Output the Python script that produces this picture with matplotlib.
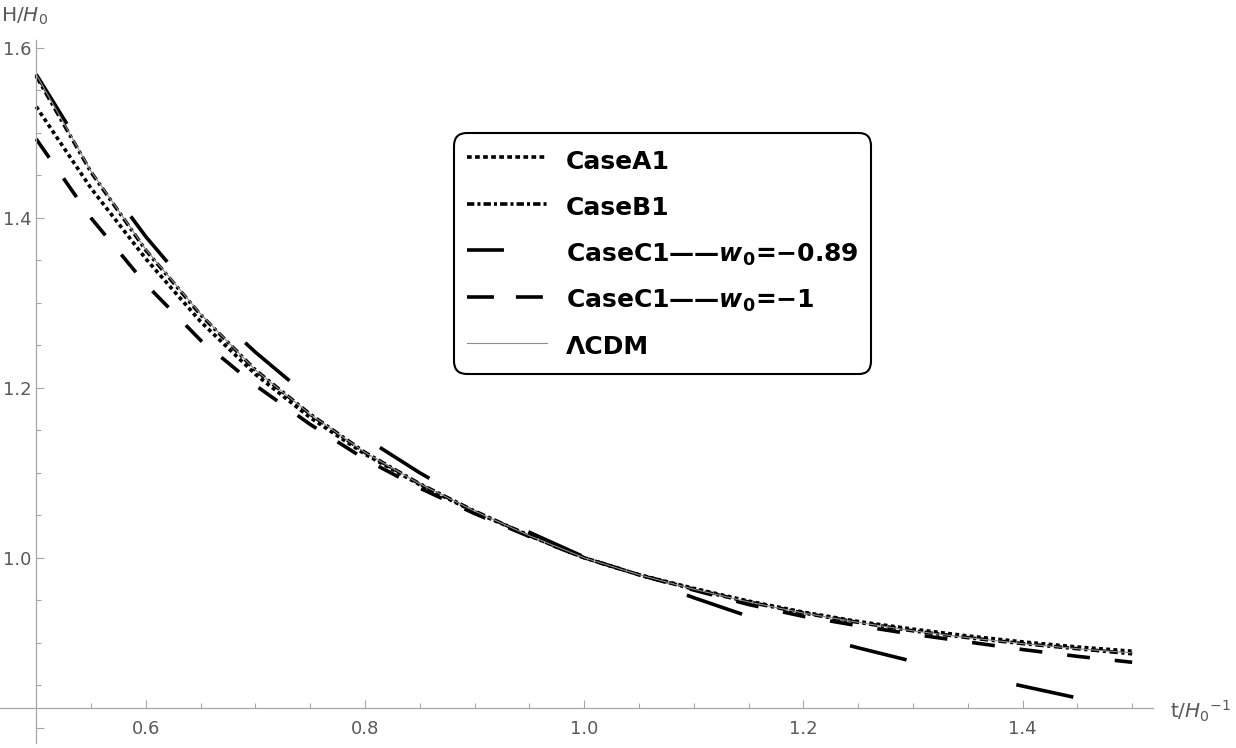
import numpy as np
import matplotlib
matplotlib.use('Agg')
from matplotlib import pyplot as plt
from matplotlib.lines import Line2D
from matplotlib.ticker import FixedLocator, FuncFormatter

# values (t in units of 1/H0)
t = [0.50, 0.55, 0.60, 0.65, 0.70, 0.75, 0.80, 0.85, 0.90, 0.95, 1.00,
     1.05, 1.10, 1.15, 1.20, 1.25, 1.30, 1.35, 1.40, 1.45, 1.50]

case_a1 = [1.531, 1.435, 1.352, 1.278, 1.216, 1.165, 1.122, 1.086, 1.054, 1.026, 1.000,
           0.980, 0.964, 0.949, 0.936, 0.925, 0.916, 0.908, 0.901, 0.895, 0.890]
case_b1 = [1.567, 1.454, 1.362, 1.286, 1.221, 1.169, 1.124, 1.087, 1.055, 1.026, 1.000,
           0.980, 0.963, 0.948, 0.935, 0.924, 0.914, 0.906, 0.899, 0.893, 0.887]
case_c1_089 = [1.569, 1.465, 1.378, 1.302, 1.242, 1.188, 1.141, 1.100, 1.063, 1.030, 1.001,
               0.977, 0.953, 0.931, 0.911, 0.894, 0.878, 0.863, 0.849, 0.835, 0.822]
case_c1_1 = [1.493, 1.400, 1.322, 1.256, 1.203, 1.157, 1.116, 1.082, 1.052, 1.025, 1.000,
             0.980, 0.962, 0.945, 0.931, 0.920, 0.910, 0.901, 0.892, 0.884, 0.877]
lcdm = [1.569, 1.455, 1.363, 1.287, 1.221, 1.169, 1.124, 1.087, 1.055, 1.026, 1.000,
        0.980, 0.963, 0.948, 0.935, 0.924, 0.914, 0.906, 0.899, 0.893, 0.888]

labels = ['CaseA1', 'CaseB1',
          r'CaseC1——$\mathbfit{w}_{\mathbf{0}}$=−0.89',
          r'CaseC1——$\mathbfit{w}_{\mathbf{0}}$=−1',
          'ΛCDM']

plt.rcParams['font.family'] = 'DejaVu Sans'
plt.rcParams['mathtext.fontset'] = 'custom'
plt.rcParams['mathtext.rm'] = 'DejaVu Sans'
plt.rcParams['mathtext.it'] = 'DejaVu Sans:italic'
plt.rcParams['mathtext.bf'] = 'DejaVu Sans:bold'
plt.rcParams['mathtext.bfit'] = 'DejaVu Sans:italic:bold'
plt.rcParams['lines.scale_dashes'] = False

W, H = 1236, 748
fig = plt.figure(figsize=(W / 100, H / 100), dpi=100)
ax = fig.add_axes([0, 1 - 743 / H, 1153 / W, (743 - 40) / H])

axis_col = '#a6a6a6'
text_col = '#5a5a5a'
lw = 2.6

ax.plot(t, case_a1, color='black', lw=lw, dashes=(2.8, 2.4))
ax.plot(t, case_b1, color='black', lw=lw, dashes=(6.0, 2.6, 2.2, 2.6))
ax.plot(t, case_c1_089, color='black', lw=lw, dashes=(42, 81))
ax.plot(t, case_c1_1, color='black', lw=lw, dashes=(16.5, 18))
ax.plot(t, lcdm, color='#8c8c8c', lw=0.8)

ax.set_xlim(0.467, 1.519)
ax.set_ylim(0.782, 1.6094)

for s in ['top', 'right']:
    ax.spines[s].set_visible(False)
ax.spines['left'].set_position(('data', 0.5))
ax.spines['bottom'].set_position(('data', 0.8235))
for s in ['left', 'bottom']:
    ax.spines[s].set_color(axis_col)
    ax.spines[s].set_linewidth(0.9)

xmaj = [0.6, 0.8, 1.0, 1.2, 1.4]
xmin = [0.55, 0.65, 0.7, 0.75, 0.85, 0.9, 0.95, 1.05, 1.1, 1.15, 1.25, 1.3, 1.35, 1.45, 1.5]
ymaj = [0.8, 1.0, 1.2, 1.4, 1.6]
ymin = [0.85, 0.9, 0.95, 1.05, 1.1, 1.15, 1.25, 1.3, 1.35, 1.45, 1.5, 1.55]
ax.xaxis.set_major_locator(FixedLocator(xmaj))
ax.xaxis.set_minor_locator(FixedLocator(xmin))
ax.yaxis.set_major_locator(FixedLocator(ymaj))
ax.yaxis.set_minor_locator(FixedLocator(ymin))
ax.xaxis.set_major_formatter(FuncFormatter(lambda v, p: '%.1f' % v))
ax.yaxis.set_major_formatter(FuncFormatter(lambda v, p: '' if v < 0.9 else '%.1f' % v))

ax.tick_params(which='both', direction='in', color=axis_col, width=0.8,
               labelsize=13, labelcolor=text_col)
ax.tick_params(which='major', length=6)
ax.tick_params(which='minor', length=3.5)
ax.tick_params(axis='x', pad=9)
ax.tick_params(axis='y', pad=3.4)

fig.text(1 / W, 1 - 22 / H, r'H/$\mathit{H}_0$', fontsize=14.5, color=text_col, va='baseline')
fig.text(1170 / W, 1 - 718 / H, r't/$\mathit{H}_0{}^{-1}$', fontsize=14.5, color=text_col, va='baseline')

# legend uses its own dash lengths, as in the reference
handles = [
    Line2D([], [], color='black', lw=lw, dashes=(3.4, 2.4)),
    Line2D([], [], color='black', lw=lw, dashes=(5.3, 2.2, 2.2, 2.2)),
    Line2D([], [], color='black', lw=lw, dashes=(26.6, 60)),
    Line2D([], [], color='black', lw=lw, dashes=(19.4, 15.8)),
    Line2D([], [], color='#8c8c8c', lw=0.8),
]
leg = ax.legend(handles, labels, loc='upper left', bbox_to_anchor=(454 / W, 1 - 133 / H),
                bbox_transform=fig.transFigure, borderaxespad=0,
                prop={'weight': 'bold', 'size': 18}, handlelength=3.2, handleheight=1.4,
                handletextpad=0.75, labelspacing=0.7, borderpad=0.52,
                fancybox=True, framealpha=1, edgecolor='black')
leg.get_frame().set_linewidth(1.5)
leg.get_frame().set_boxstyle('round,pad=0,rounding_size=0.5')

plt.savefig('out.png', dpi=100)
